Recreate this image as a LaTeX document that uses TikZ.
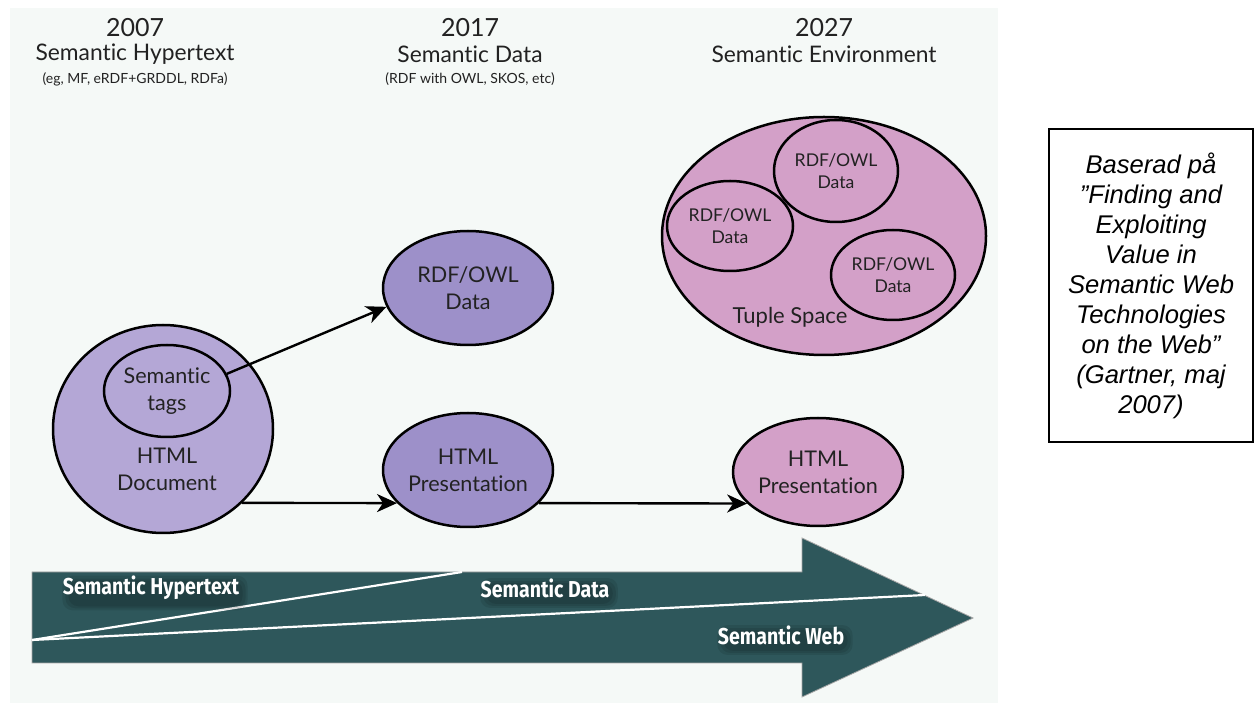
\documentclass[tikz,border=0pt]{standalone}
\usepackage{fontspec}
\setmainfont{Lato}[Ligatures=NoCommon]
\newfontfamily\boxfont{Liberation Sans}
\newfontfamily\arrfont[FakeStretch=0.85,Ligatures=NoCommon]{Fira Sans}
\usetikzlibrary{arrows.meta,shapes.geometric}
\pgfdeclarelayer{front}
\pgfsetlayers{main,front}
\definecolor{panelbg}{HTML}{F5F9F7}
\definecolor{lavL}{HTML}{B4A7D6}
\definecolor{lavD}{HTML}{9D90C9}
\definecolor{pinkc}{HTML}{D3A0C8}
\definecolor{teal}{HTML}{2E575B}
\definecolor{txt}{HTML}{222222}
\begin{document}
\begin{tikzpicture}[x=0.5pt,y=-0.5pt,
  ell/.style={ellipse, draw=black, line width=1.25pt, inner sep=0pt, align=center, text=txt,
    font=\fontsize{10.8}{13.5}\selectfont},
  smallell/.style={ell, font=\fontsize{8.8}{11}\selectfont},
  lbl/.style={inner sep=0pt, align=center, text=txt, font=\fontsize{10.8}{13.5}\selectfont},
  year/.style={inner sep=0pt, text=txt, font=\fontsize{12.5}{14}\selectfont},
  era/.style={inner sep=0pt, text=txt, font=\fontsize{11.4}{13}\selectfont},
  sub/.style={inner sep=0pt, text=txt, font=\fontsize{7}{8}\selectfont},
  arr/.style={line width=1.2pt, -{Stealth[length=10pt,width=9pt,inset=3pt]}},
  bandtxt/.style={inner sep=0pt, text=white, font=\arrfont\bfseries\fontsize{11.5}{13}\selectfont},
  shade/.style={black, opacity=0.09, rounded corners=5pt},
  sep/.style={white, line width=1.1pt}]
\useasboundingbox (0,0) rectangle (1254,705);
% panel
\fill[panelbg] (10,8) rectangle (998,703);
% headers
\node[year] (y1) at (135,28) {2007};
\node[era]  (e1) at (135,54) {Semantic Hypertext};
\node[sub]  (s1) at (135,79) {(eg, MF, eRDF+GRDDL, RDFa)};
\node[year] (y2) at (470,28) {2017};
\node[era]  (e2) at (470,54) {Semantic Data};
\node[sub]  (s2) at (470,79) {(RDF with OWL, SKOS, etc)};
\node[year] (y3) at (824,28) {2027};
\node[era]  (e3) at (824,54) {Semantic Environment};
% 2007
\node[ell, fill=lavL, minimum width=110pt, minimum height=104pt] (doc) at (163,429) {};
\node[lbl] (doctext) at (167,469) {HTML\\Document};
\node[ell, fill=lavL, minimum width=63pt, minimum height=46pt] (tags) at (167,391) {Semantic\\tags};
% 2017
\node[ell, fill=lavD, minimum width=85pt, minimum height=57pt] (rdf) at (468,288) {RDF/OWL\\Data};
\node[ell, fill=lavD, minimum width=85pt, minimum height=57pt] (pres1) at (468,470) {HTML\\Presentation};
% 2027
\node[ell, fill=pinkc, minimum width=162pt, minimum height=119pt] (tuple) at (824,236) {};
\node[smallell, fill=pinkc, minimum width=62pt, minimum height=51pt] (d1) at (836,171) {RDF/OWL\\Data};
\node[smallell, fill=pinkc, minimum width=63pt, minimum height=45pt] (d2) at (730,226) {RDF/OWL\\Data};
\node[smallell, fill=pinkc, minimum width=62pt, minimum height=45pt] (d3) at (893,275) {RDF/OWL\\Data};
\node[lbl, font=\fontsize{11}{13}\selectfont] (tslabel) at (790,317) {Tuple Space};
\node[ell, fill=pinkc, minimum width=85pt, minimum height=54pt] (pres2) at (818,472) {HTML\\Presentation};
% connectors
\draw[arr] (tags.16) -- (rdf.193);
\draw[arr] (doc.-43.75) -- (pres1.205.5);
\draw[arr] (pres1.-25.5) -- (pres2.204);
% big arrow
\fill[teal] (32,572) -- (802,572) -- (802,538) -- (973,618) -- (802,697) -- (802,663) -- (32,663) -- cycle;
\draw[gray!70, line width=0.4pt] (32,572) -- (802,572) -- (802,538) -- (973,618) -- (802,697) -- (802,663) -- (32,663) -- cycle;
\coordinate (o) at (32,640);
\coordinate (ea) at (462,572);
\coordinate (eb) at (925,595);
\draw[sep] (o) -- (ea);
\draw[sep] (o) -- (eb);
\begin{pgfonlayer}{front}
\node[bandtxt] (sh1) at (151,588) {Semantic Hypertext};
\node[bandtxt] (sh2) at (545,588) {Semantic Data};
\node[bandtxt] (sh3) at (781,635) {Semantic Web};
\end{pgfonlayer}
\foreach \n in {sh1,sh2,sh3}{
  \fill[shade] ([shift={(0,0)}]\n.north west) rectangle ([shift={(8,10)}]\n.south east);
  \fill[shade] ([shift={(3,3)}]\n.north west) rectangle ([shift={(6,8)}]\n.south east);
  \fill[shade] ([shift={(6,5)}]\n.north west) rectangle ([shift={(3,6)}]\n.south east);
}
% source box
\node[draw=black, line width=0.6pt, minimum width=102pt, minimum height=156.5pt, inner sep=0pt,
  align=center, text=black, font=\boxfont\itshape\fontsize{12.8}{15}\selectfont] (src) at (1151,285.5)
  {Baserad på\\”Finding and\\Exploiting\\Value in\\Semantic Web\\Technologies\\on the Web”\\(Gartner, maj\\2007)};
\end{tikzpicture}
\end{document}
